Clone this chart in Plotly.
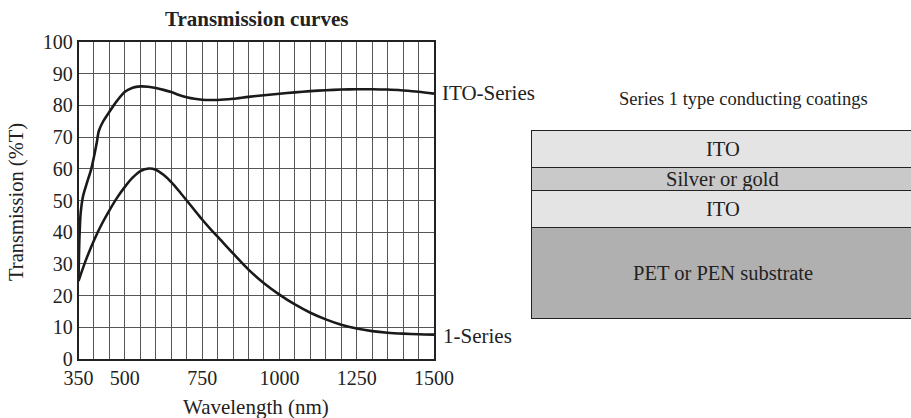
import plotly.graph_objects as go

# ---- data ----
ito_wavelength = [350, 353, 357, 365, 377, 390, 400, 409, 416, 430, 450, 475, 500, 525, 550, 575,
                  600, 625, 650, 675, 700, 725, 750, 775, 800, 850, 900, 950, 1000, 1050, 1100,
                  1150, 1200, 1250, 1300, 1350, 1400, 1450, 1500]
ito_transmission = [25, 38, 46, 51.5, 55.5, 59.5, 63.8, 68.2, 72.0, 75, 78, 81.5, 84.3, 85.6, 86.0, 85.9,
                    85.5, 84.9, 84.2, 83.3, 82.6, 82.1, 81.8, 81.7, 81.7, 82.1, 82.7, 83.2, 83.7, 84.1, 84.5,
                    84.8, 85.0, 85.1, 85.1, 85.0, 84.7, 84.3, 83.7]

s1_wavelength = [350, 375, 400, 425, 450, 475, 500, 525, 550, 578, 600, 625, 650, 675, 700, 725,
                 750, 775, 800, 850, 900, 950, 1000, 1050, 1100, 1150, 1200, 1250, 1300, 1350,
                 1400, 1450, 1500]
s1_transmission = [24.6, 31.5, 37.4, 42.5, 46.9, 50.9, 54.3, 57.2, 59.3, 60.1, 59.7, 58.1, 55.8, 53.0, 50.0, 47.0,
                   44.0, 41.2, 38.6, 33.3, 28.2, 23.9, 20.3, 17.2, 14.6, 12.5, 10.8, 9.6, 8.8, 8.3,
                   8.0, 7.8, 7.7]

x_tick_labels = [350, 500, 750, 1000, 1250, 1500]
y_tick_labels = [0, 10, 20, 30, 40, 50, 60, 70, 80, 90, 100]

layer_names = ["PET or PEN substrate", "ITO", "Silver or gold", "ITO"]
layer_thickness = [90, 37, 23, 37]
layer_colors = ["#b0b0b0", "#e4e4e4", "#c9c9c9", "#e4e4e4"]

FONT = "Liberation Serif, Times New Roman, serif"
W, H = 911, 418
TXT = "#222"

fig = go.Figure()

fig.add_trace(go.Scatter(x=ito_wavelength, y=ito_transmission, mode="lines",
                         line=dict(color="#1a1a1a", width=2.6, shape="spline", smoothing=0.8),
                         showlegend=False, hoverinfo="skip"))
fig.add_trace(go.Scatter(x=s1_wavelength, y=s1_transmission, mode="lines",
                         line=dict(color="#1a1a1a", width=2.6, shape="spline", smoothing=0.8),
                         showlegend=False, hoverinfo="skip"))

# layer stack as stacked bars on a second axis pair
for name, th, col in zip(layer_names, layer_thickness, layer_colors):
    fig.add_trace(go.Bar(x=[0], y=[th], width=1, marker=dict(color=col, line=dict(color="#222", width=1.5)),
                         xaxis="x2", yaxis="y2", showlegend=False, hoverinfo="skip"))

annotations = []
cum = 0
for name, th in zip(layer_names, layer_thickness):
    annotations.append(dict(x=0, y=cum + th / 2, xref="x2", yref="y2", text=name, showarrow=False,
                            xanchor="center", yanchor="middle",
                            font=dict(family=FONT, size=20.5, color=TXT)))
    cum += th

# curve end labels
annotations.append(dict(x=ito_wavelength[-1], y=ito_transmission[-1] + 0.3, xref="x", yref="y",
                        text="ITO-Series", showarrow=False, xanchor="left", yanchor="middle", xshift=6,
                        font=dict(family=FONT, size=21, color=TXT)))
annotations.append(dict(x=s1_wavelength[-1], y=s1_transmission[-1] - 0.4, xref="x", yref="y",
                        text="1-Series", showarrow=False, xanchor="left", yanchor="middle", xshift=7,
                        font=dict(family=FONT, size=21, color=TXT)))

# titles
annotations.append(dict(x=256 / W, y=1 - 19 / H, xref="paper", yref="paper", text="<b>Transmission curves</b>",
                        showarrow=False, xanchor="center", yanchor="middle",
                        font=dict(family=FONT, size=21, color=TXT)))
annotations.append(dict(x=256 / W, y=1 - 407 / H, xref="paper", yref="paper", text="Wavelength (nm)",
                        showarrow=False, xanchor="center", yanchor="middle",
                        font=dict(family=FONT, size=21, color=TXT)))
annotations.append(dict(x=16 / W, y=1 - 202 / H, xref="paper", yref="paper", text="Transmission (%T)",
                        textangle=-90, showarrow=False, xanchor="center", yanchor="middle",
                        font=dict(family=FONT, size=20.5, color=TXT)))
annotations.append(dict(x=743 / W, y=1 - 99 / H, xref="paper", yref="paper",
                        text="Series 1 type conducting coatings",
                        showarrow=False, xanchor="center", yanchor="middle",
                        font=dict(family=FONT, size=18.5, color=TXT)))

x_grid_vals = list(range(350, 1501, 50))
x_grid_text = [str(v) if v in x_tick_labels else "" for v in x_grid_vals]

fig.update_layout(
    width=W, height=H,
    margin=dict(l=0, r=0, t=0, b=0, autoexpand=False),
    paper_bgcolor="white", plot_bgcolor="white",
    font=dict(family=FONT, color=TXT),
    barmode="stack",
    xaxis=dict(domain=[78.5 / W, 434 / W], range=[350, 1500], tickvals=x_grid_vals, ticktext=x_grid_text,
               showgrid=True, gridcolor="#555", gridwidth=1, showline=True, linecolor="#222", linewidth=1.5,
               mirror=True, ticks="", zeroline=False, automargin=False,
               tickfont=dict(family=FONT, size=20, color=TXT)),
    yaxis=dict(domain=[1 - 359 / H, 1 - 42 / H], range=[0, 100], tickvals=y_tick_labels,
               showgrid=True, gridcolor="#555", gridwidth=1, showline=True, linecolor="#222", linewidth=1.5,
               mirror=True, ticks="", zeroline=False, automargin=False,
               tickfont=dict(family=FONT, size=20, color=TXT)),
    xaxis2=dict(domain=[531 / W, 1.0], range=[-0.502, 0.492], visible=False, anchor="y2", automargin=False),
    yaxis2=dict(domain=[1 - 319 / H, 1 - 130 / H], range=[-0.5, 187.5], visible=False, anchor="x2",
                automargin=False),
    annotations=annotations,
    bargap=0,
)

fig.write_html("out.html")
